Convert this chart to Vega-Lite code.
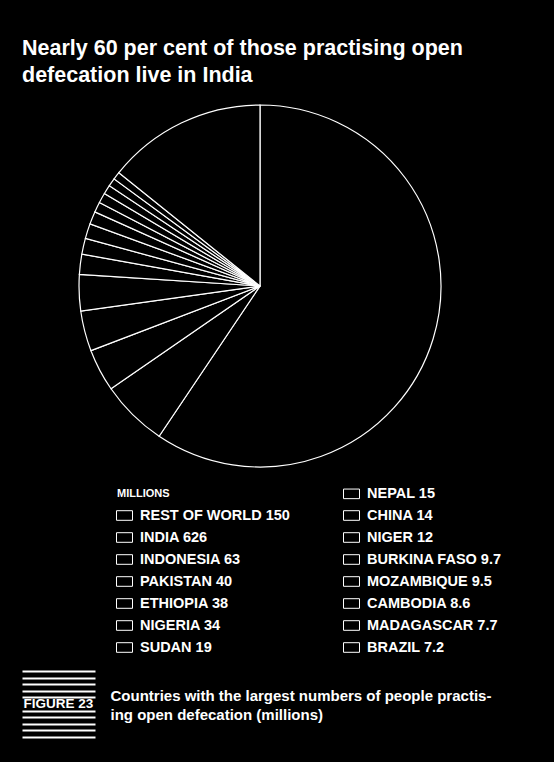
{
  "$schema": "https://vega.github.io/schema/vega-lite/v6.json",
  "background": "black",
  "padding": {"left": 22, "top": 38, "right": 53, "bottom": 25},
  "title": {
    "text": ["Nearly 60 per cent of those practising open", "defecation live in India"],
    "anchor": "start",
    "font": "Liberation Sans",
    "fontSize": 21.5,
    "fontWeight": "bold",
    "color": "white",
    "lineHeight": 27,
    "offset": 16
  },
  "spacing": 16,
  "resolve": {"scale": {"stroke": "independent"}, "legend": {"stroke": "independent"}},
  "vconcat": [
    {
      "width": 476,
      "height": 362,
      "data": {
        "values": [
          {"country": "India", "label": "INDIA 626", "millions": 626, "n": 1},
          {"country": "Indonesia", "label": "INDONESIA 63", "millions": 63, "n": 2},
          {"country": "Pakistan", "label": "PAKISTAN 40", "millions": 40, "n": 3},
          {"country": "Ethiopia", "label": "ETHIOPIA 38", "millions": 38, "n": 4},
          {"country": "Nigeria", "label": "NIGERIA 34", "millions": 34, "n": 5},
          {"country": "Sudan", "label": "SUDAN 19", "millions": 19, "n": 6},
          {"country": "Nepal", "label": "NEPAL 15", "millions": 15, "n": 7},
          {"country": "China", "label": "CHINA 14", "millions": 14, "n": 8},
          {"country": "Niger", "label": "NIGER 12", "millions": 12, "n": 9},
          {"country": "Burkina Faso", "label": "BURKINA FASO 9.7", "millions": 9.7, "n": 10},
          {"country": "Mozambique", "label": "MOZAMBIQUE 9.5", "millions": 9.5, "n": 11},
          {"country": "Cambodia", "label": "CAMBODIA 8.6", "millions": 8.6, "n": 12},
          {"country": "Madagascar", "label": "MADAGASCAR 7.7", "millions": 7.7, "n": 13},
          {"country": "Brazil", "label": "BRAZIL 7.2", "millions": 7.2, "n": 14},
          {"country": "Rest of world", "label": "REST OF WORLD 150", "millions": 150, "n": 15}
        ]
      },
      "mark": {"type": "arc", "fill": "black", "strokeWidth": 1.2},
      "encoding": {
        "theta": {"field": "millions", "type": "quantitative", "stack": true},
        "order": {"field": "n", "type": "quantitative"},
        "stroke": {
          "field": "label",
          "type": "nominal",
          "scale": {
            "domain": ["MILLIONS", "REST OF WORLD 150", "INDIA 626", "INDONESIA 63", "PAKISTAN 40", "ETHIOPIA 38", "NIGERIA 34", "SUDAN 19", "NEPAL 15", "CHINA 14", "NIGER 12", "BURKINA FASO 9.7", "MOZAMBIQUE 9.5", "CAMBODIA 8.6", "MADAGASCAR 7.7", "BRAZIL 7.2"],
            "range": ["black", "white", "white", "white", "white", "white", "white", "white", "white", "white", "white", "white", "white", "white", "white", "white"]
          },
          "legend": {
            "orient": "none",
            "legendX": 94,
            "legendY": 380,
            "title": null,
            "columns": 2,
            "padding": 0,
            "symbolType": "M-1,-0.6H1V0.6H-1Z",
            "symbolSize": 256,
            "symbolFillColor": "black",
            "symbolStrokeWidth": 1,
            "labelColor": "white",
            "labelFont": "Liberation Sans",
            "labelFontWeight": "bold",
            "labelFontSize": {"expr": "datum.label == 'MILLIONS' ? 11 : 14.5"},
            "labelOffset": {"expr": "datum.label == 'MILLIONS' ? -16 : 7"},
            "labelLimit": 300,
            "rowPadding": 6,
            "columnPadding": 51
          }
        }
      }
    },
    {
      "spacing": 15,
      "hconcat": [
        {
          "width": 73,
          "height": 66,
          "data": {"values": [{"tag": "FIGURE 23"}]},
          "mark": {"type": "text", "color": "white", "font": "Liberation Sans", "fontWeight": "bold", "fontSize": 13.5},
          "encoding": {
            "text": {"field": "tag"},
            "y": {
              "datum": 5,
              "type": "quantitative",
              "scale": {"domain": [0, 10]},
              "axis": {"values": [0, 1, 2, 3, 4, 6, 7, 8, 9, 10], "grid": true, "gridColor": "white", "gridWidth": 2, "gridOpacity": 1, "domain": false, "ticks": false, "labels": false, "title": null}
            }
          }
        },
        {
          "width": 1,
          "height": 49,
          "data": {"values": [{"note": "Countries with the largest numbers of people practis-\ning open defecation (millions)"}]},
          "mark": {"type": "text", "color": "white", "font": "Liberation Sans", "fontWeight": "bold", "fontSize": 15, "align": "left", "baseline": "middle", "lineHeight": 19, "lineBreak": "\n"},
          "encoding": {
            "text": {"field": "note"}
          }
        }
      ]
    }
  ],
  "config": {
    "view": {"stroke": null},
    "font": "Liberation Sans"
  }
}
